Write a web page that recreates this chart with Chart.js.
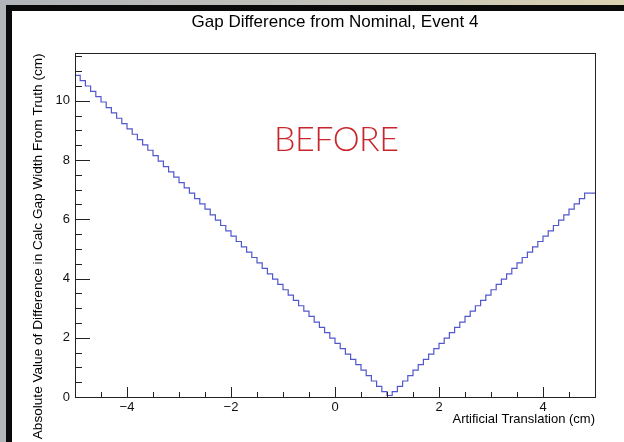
<!DOCTYPE html>
<html>
<head>
<meta charset="utf-8">
<script src="https://cdn.jsdelivr.net/npm/chart.js@4"></script>
<style>
  html, body { margin: 0; padding: 0; }
  body {
    width: 624px; height: 442px; overflow: hidden; position: relative;
    background: linear-gradient(to right, #b2b5ba 0%, #c4c3bb 55%, #dcd3b2 100%);
  }
  #sheet {
    position: absolute; left: 6px; top: 5px; width: 618px; height: 432px;
    background: #fff; border-left: 6px solid #0a0a0a; border-top: 6px solid #0a0a0a;
    border-bottom: 4px solid #0a0a0a;
  }
  #chart { position: absolute; left: 0; top: 0; }
  #before {
    position: absolute; left: 274px; top: 117px;
    font-family: "Lato", "Open Sans", sans-serif; font-weight: 300; font-size: 34px;
    color: #c8262c; letter-spacing: -0.5px;
  }
</style>
</head>
<body>
<div id="sheet"></div>
<canvas id="chart" width="624" height="442"></canvas>
<div id="before">BEFORE</div>
<script>
// histogram: 100 bins from -5 to 5
const xLow = -5;
const xHigh = 5;
const binValues = [
  11.04, 10.86, 10.68, 10.50, 10.32, 10.14, 9.96, 9.77, 9.59, 9.41,
  9.23, 9.05, 8.87, 8.69, 8.51, 8.33, 8.15, 7.96, 7.78, 7.60,
  7.42, 7.24, 7.06, 6.88, 6.70, 6.52, 6.34, 6.15, 5.97, 5.79,
  5.61, 5.43, 5.25, 5.07, 4.89, 4.71, 4.53, 4.34, 4.16, 3.98,
  3.80, 3.62, 3.44, 3.26, 3.08, 2.90, 2.72, 2.53, 2.35, 2.17,
  1.99, 1.81, 1.63, 1.45, 1.27, 1.09, 0.91, 0.72, 0.54, 0.36,
  0.18, 0.05, 0.18, 0.36, 0.54, 0.72, 0.91, 1.09, 1.27, 1.45,
  1.63, 1.81, 1.99, 2.17, 2.35, 2.53, 2.72, 2.90, 3.08, 3.26,
  3.44, 3.62, 3.80, 3.98, 4.16, 4.34, 4.53, 4.71, 4.89, 5.07,
  5.25, 5.43, 5.61, 5.79, 5.97, 6.15, 6.34, 6.52, 6.70, 6.88
];
const xTicks = [-4, -2, 0, 2, 4];
const yTicks = [0, 2, 4, 6, 8, 10];
const yMax = 11.6;

const binWidth = (xHigh - xLow) / binValues.length;
const histPoints = binValues.map((v, i) => ({ x: xLow + i * binWidth, y: v }));
histPoints.push({ x: xHigh, y: binValues[binValues.length - 1] });

const FONT = '"Liberation Sans", Arial, Helvetica, sans-serif';

// ROOT style frame with inward ticks
const rootFrame = {
  id: 'rootFrame',
  afterDraw(chart) {
    const { ctx, chartArea: a, scales: { x, y } } = chart;
    ctx.save();
    ctx.strokeStyle = '#222';
    ctx.lineWidth = 1;
    ctx.strokeRect(Math.round(a.left) + 0.5, Math.round(a.top) + 0.5,
      Math.round(a.right - a.left), Math.round(a.bottom - a.top));
    ctx.beginPath();
    for (let v = 0; v <= yMax; v += 0.5) {
      const py = Math.round(y.getPixelForValue(v)) + 0.5;
      const len = yTicks.includes(v) ? 15 : 7;
      ctx.moveTo(a.left, py);
      ctx.lineTo(a.left + len, py);
    }
    for (let v = xLow; v <= xHigh; v += 0.5) {
      const px = Math.round(x.getPixelForValue(v)) + 0.5;
      const len = xTicks.includes(v) ? 10 : 5;
      ctx.moveTo(px, a.bottom);
      ctx.lineTo(px, a.bottom - len);
    }
    ctx.stroke();
    ctx.restore();
  }
};

new Chart(document.getElementById('chart'), {
  type: 'line',
  data: {
    datasets: [{
      data: histPoints,
      stepped: 'after',
      borderColor: '#5257cc',
      borderWidth: 1.2,
      pointRadius: 0,
      fill: false
    }]
  },
  options: {
    responsive: false,
    animation: false,
    layout: { padding: { left: 12, right: 29, top: 11, bottom: 6 } },
    plugins: {
      legend: { display: false },
      tooltip: { enabled: false },
      title: {
        display: true,
        fullSize: false,
        text: 'Gap Difference from Nominal, Event 4',
        color: '#000',
        font: { family: FONT, size: 17, weight: 'normal' },
        padding: { top: 1, bottom: 21 }
      }
    },
    scales: {
      x: {
        type: 'linear',
        min: xLow,
        max: xHigh,
        afterBuildTicks: s => { s.ticks = xTicks.map(v => ({ value: v })); },
        afterFit: s => { s.height = 39; },
        grid: { display: false, drawTicks: false },
        border: { display: false },
        ticks: {
          padding: 3,
          color: '#111',
          font: { family: FONT, size: 13 },
          maxRotation: 0,
          callback: v => (v < 0 ? '\u2212' + Math.abs(v) : String(v))
        },
        title: {
          display: true,
          align: 'end',
          text: 'Artificial Translation (cm)',
          color: '#000',
          font: { family: FONT, size: 13 },
          padding: { top: 0, bottom: 9 }
        }
      },
      y: {
        min: 0,
        max: yMax,
        afterBuildTicks: s => { s.ticks = yTicks.map(v => ({ value: v })); },
        afterFit: s => { s.width = 63; },
        grid: { display: false, drawTicks: false },
        border: { display: false },
        ticks: {
          padding: 5,
          color: '#111',
          font: { family: FONT, size: 13 }
        },
        title: {
          display: true,
          align: 'end',
          text: 'Absolute Value of Difference in Calc Gap Width From Truth (cm)',
          color: '#000',
          font: { family: FONT, size: 13.6 },
          padding: { top: 18, bottom: 0 }
        }
      }
    }
  },
  plugins: [rootFrame]
});
</script>
</body>
</html>
